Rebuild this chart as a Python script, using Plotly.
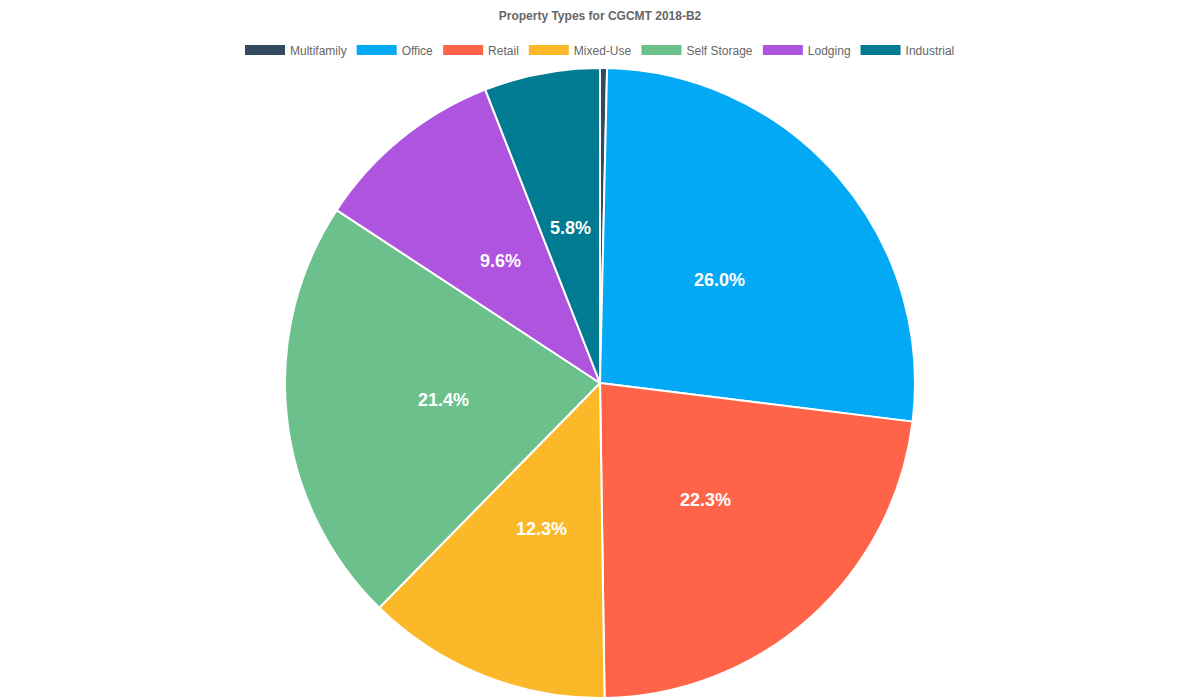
import math
import plotly.graph_objects as go

categories = ["Multifamily", "Office", "Retail", "Mixed-Use", "Self Storage", "Lodging", "Industrial"]
values = [0.35, 26.0, 22.3, 12.3, 21.4, 9.6, 5.8]
colors = ["#34495e", "#03a9f4", "#ff6348", "#fbb829", "#6cc08b", "#ae54de", "#007b91"]
title_text = "Property Types for CGCMT 2018-B2"

W, H = 1200, 700
mt, mb = 68, 2
ph = H - mt - mb
radius = ph / 2
FONT = "Liberation Sans, Arial, sans-serif"

fig = go.Figure()
fig.add_trace(go.Pie(
    labels=categories,
    values=values,
    marker=dict(colors=colors, line=dict(color="#ffffff", width=2)),
    sort=False,
    direction="clockwise",
    rotation=0,
    textinfo="none",
    hoverinfo="label+value",
    showlegend=False,
))

# legend entries drawn as wide colour boxes (Chart.js style)
for cat, col in zip(categories, colors):
    fig.add_trace(go.Scatter(
        x=[None], y=[None], mode="lines", name=cat,
        line=dict(color=col, width=10), showlegend=True, hoverinfo="skip",
    ))

# data labels at half radius along each slice bisector (computed from values)
total = sum(values)
cum = 0.0
annotations = []
for cat, v in zip(categories, values):
    start = cum
    cum += v
    frac = v / total
    if frac < 0.03:
        continue
    mid = (start + v / 2) / total * 2 * math.pi
    dx = math.sin(mid) * radius / 2
    dy = math.cos(mid) * radius / 2
    annotations.append(dict(
        x=0.5 + dx / W, y=0.5 + dy / ph, xref="paper", yref="paper",
        text=f"<b>{v:.1f}%</b>", showarrow=False,
        font=dict(family=FONT, size=18, color="#ffffff"),
        xanchor="center", yanchor="middle",
    ))

fig.update_layout(
    width=W, height=H,
    margin=dict(l=0, r=0, t=mt, b=mb),
    paper_bgcolor="#ffffff",
    plot_bgcolor="#ffffff",
    xaxis=dict(visible=False, showgrid=False, zeroline=False),
    yaxis=dict(visible=False, showgrid=False, zeroline=False),
    title=dict(text=f"<b>{title_text}</b>", x=0.5, xanchor="center", y=1 - 16 / H, yanchor="middle",
               font=dict(family=FONT, size=12, color="#666666")),
    legend=dict(orientation="h", x=0.5, xanchor="center", y=1 + 18 / ph, yanchor="middle",
                font=dict(family=FONT, size=12, color="#666666"),
                traceorder="normal", itemwidth=40, itemclick=False, itemdoubleclick=False),
    annotations=annotations,
)

fig.write_html("out.html")
